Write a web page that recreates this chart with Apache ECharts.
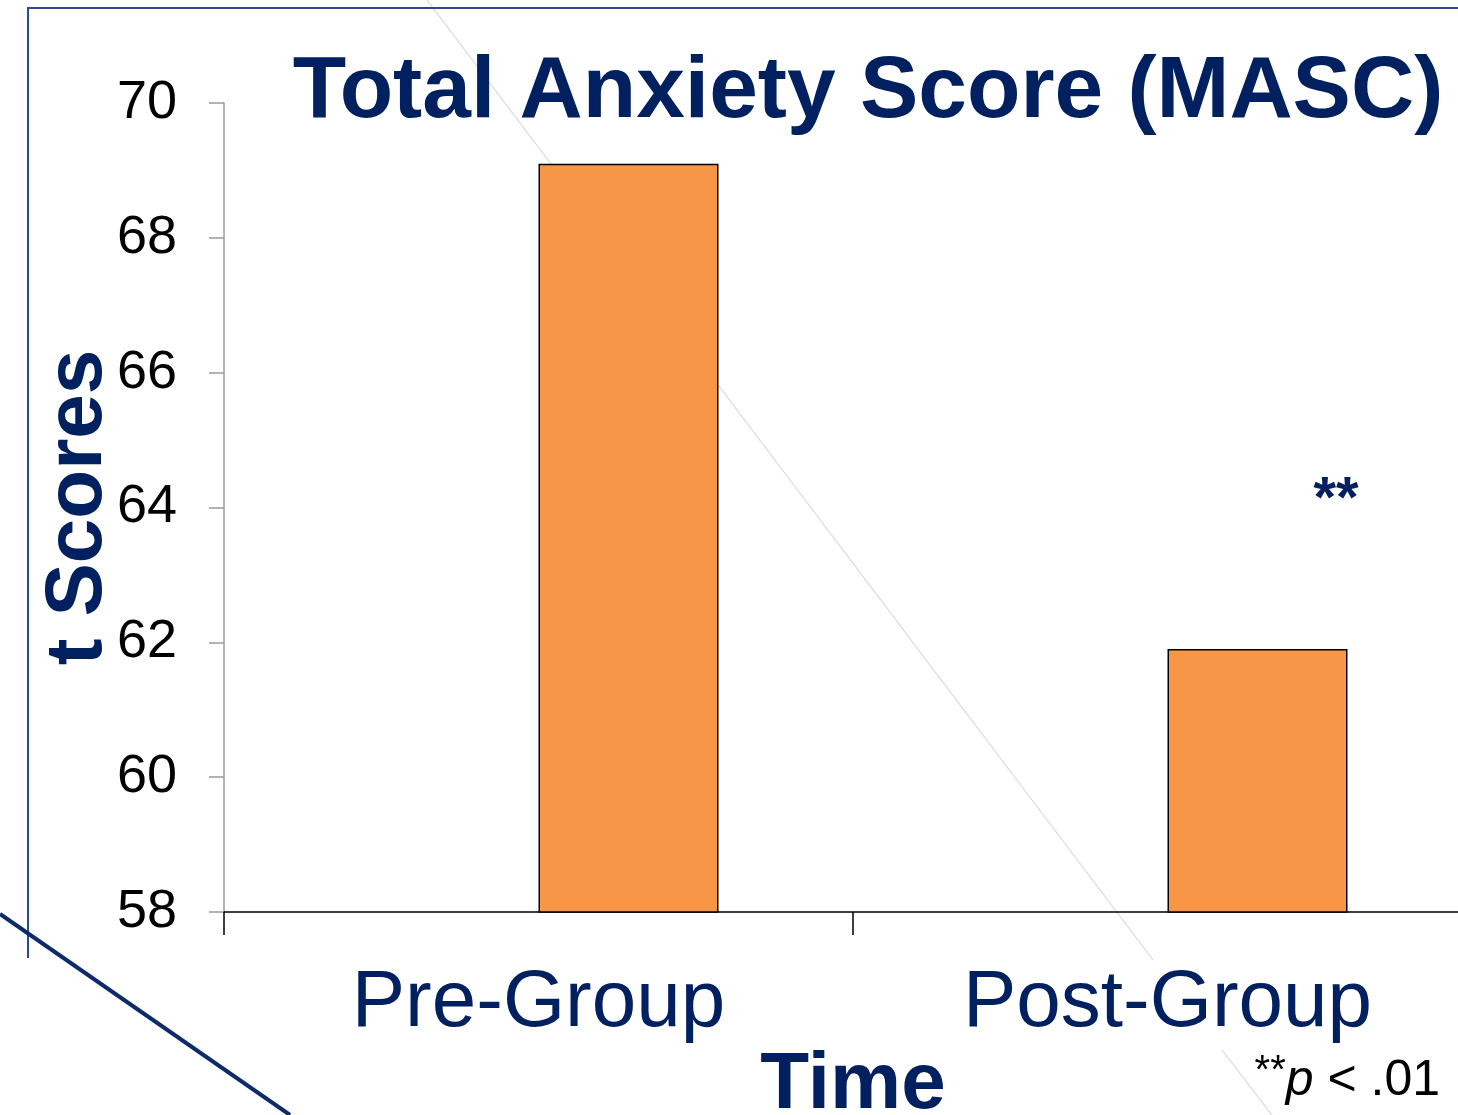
<!DOCTYPE html>
<html>
<head>
<meta charset="utf-8">
<script src="https://cdn.jsdelivr.net/npm/echarts@6/dist/echarts.min.js"></script>
<style>
html,body{margin:0;padding:0;background:#fff;}
#chart{width:1458px;height:1115px;}
</style>
</head>
<body>
<div id="chart"></div>
<script>
var categories = ['Pre-Group', 'Post-Group'];
var tScores = [69.1, 61.9];
var placeholder = [null, null];
var yTicks = [58, 60, 62, 64, 66, 68, 70];

var NAVY = '#002060';
var FONT = '"Liberation Sans", Arial, sans-serif';

var chart = echarts.init(document.getElementById('chart'), null, {renderer: 'canvas'});
chart.setOption({
  backgroundColor: '#ffffff',
  animation: false,
  title: {
    text: 'Total Anxiety Score (MASC)',
    left: 863,
    top: 44,
    textAlign: 'center',
    textStyle: {color: NAVY, fontFamily: FONT, fontWeight: 'bold', fontSize: 87.5}
  },
  grid: {left: 224, top: 103, width: 1258, height: 809, containLabel: false, outerBoundsMode: 'none'},
  xAxis: {
    type: 'category',
    data: categories,
    name: 'Time',
    nameLocation: 'middle',
    nameGap: 134,
    nameMoveOverlap: false,
    nameTextStyle: {color: NAVY, fontFamily: FONT, fontWeight: 'bold', fontSize: 80},
    axisLine: {show: true, lineStyle: {color: '#000', width: 1.5}},
    axisTick: {show: true, length: 23, lineStyle: {color: '#000', width: 1.5}},
    axisLabel: {color: NAVY, fontFamily: FONT, fontSize: 80, margin: 52},
    splitLine: {show: false}
  },
  yAxis: {
    type: 'value',
    min: yTicks[0],
    max: yTicks[yTicks.length - 1],
    interval: 2,
    name: 't Scores',
    nameLocation: 'middle',
    nameRotate: 90,
    nameGap: 105,
    nameMoveOverlap: false,
    nameTextStyle: {color: NAVY, fontFamily: FONT, fontWeight: 'bold', fontSize: 80},
    axisLine: {show: true, lineStyle: {color: '#999', width: 1.5}},
    axisTick: {show: true, length: 15, lineStyle: {color: '#999', width: 1.5}},
    axisLabel: {color: '#000', fontFamily: FONT, fontSize: 54, margin: 47},
    splitLine: {show: false}
  },
  series: [
    {
      type: 'bar',
      data: placeholder,
      barWidth: 180,
      barGap: '0%',
      silent: true,
      itemStyle: {color: 'transparent'}
    },
    {
      type: 'bar',
      name: 't Scores',
      data: tScores,
      barWidth: 180,
      barGap: '0%',
      z: 3,
      itemStyle: {color: '#F79646', borderColor: '#000', borderWidth: 1.5}
    }
  ],
  graphic: [
    {type: 'line', z: -10, silent: true, shape: {x1: 427, y1: 0, x2: 1153, y2: 960}, style: {stroke: '#d9d9d9', lineWidth: 1.2}},
    {type: 'line', z: -10, silent: true, shape: {x1: 1222, y1: 1050, x2: 1272, y2: 1115}, style: {stroke: '#d9d9d9', lineWidth: 1.2}},
    {type: 'polyline', z: -5, silent: true, shape: {points: [[28, 958], [28, 8], [1458, 8]]}, style: {stroke: '#2b4c8c', lineWidth: 2, fill: null}},
    {type: 'line', z: 50, silent: true, shape: {x1: 0, y1: 914, x2: 290, y2: 1115}, style: {stroke: '#0d2a6b', lineWidth: 4}},
    {type: 'text', z: 50, silent: true, style: {text: '**', x: 1336, y: 501, align: 'center', verticalAlign: 'middle', fill: NAVY, font: 'bold 58px ' + FONT}},
    {type: 'text', z: 50, silent: true, style: {
      text: '{s|**}{p|p}{n| < .01}',
      x: 1440, y: 1081, align: 'right', verticalAlign: 'middle',
      rich: {
        s: {fontFamily: FONT, fontSize: 40, fill: '#000', verticalAlign: 'top', padding: [0, 0, 18, 0]},
        p: {fontFamily: FONT, fontSize: 50, fontStyle: 'italic', fill: '#000'},
        n: {fontFamily: FONT, fontSize: 50, fill: '#000'}
      }
    }}
  ]
});
</script>
</body>
</html>
